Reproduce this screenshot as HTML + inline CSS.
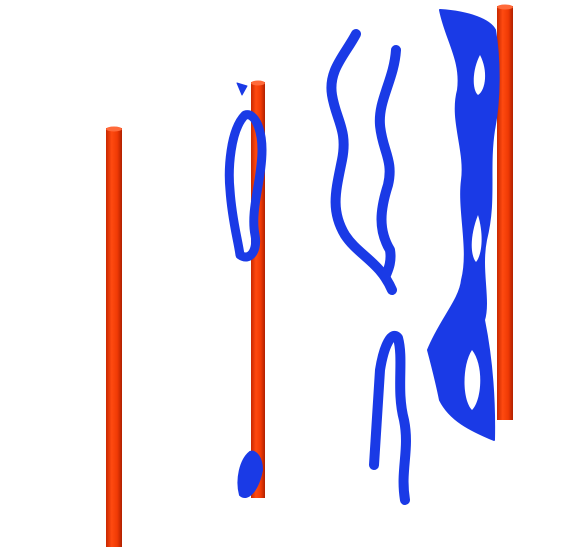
<!DOCTYPE html>
<html><head><meta charset="utf-8"><style>
html,body{margin:0;padding:0;background:#fff;}
svg{display:block;}
</style></head><body>
<svg width="576" height="557" viewBox="0 0 576 557">
<defs>
<linearGradient id="rod" x1="0" x2="1" y1="0" y2="0">
<stop offset="0" stop-color="#c82800"/><stop offset="0.35" stop-color="#ff4a10"/><stop offset="0.7" stop-color="#f03a05"/><stop offset="1" stop-color="#b02000"/>
</linearGradient>
</defs>
<g>
<rect x="106" y="128" width="16" height="419" fill="url(#rod)"/>
<ellipse cx="114" cy="129" rx="8" ry="2.5" fill="#ff6a3a"/>
<rect x="251" y="82" width="14" height="416" fill="url(#rod)"/>
<ellipse cx="258" cy="83" rx="7" ry="2.5" fill="#ff6a3a"/>
<rect x="497" y="6" width="16" height="414" fill="url(#rod)"/>
<ellipse cx="505" cy="7" rx="8" ry="2.5" fill="#ff6a3a"/>
</g>
<g fill="none" stroke="#1a3ae6" stroke-linecap="round" stroke-linejoin="round">
<path d="M237 83 L247 86 L242 95 Z" fill="#1a3ae6" stroke-width="1"/>
<path d="M245 115 C230 130 228 170 230 190 C232 220 238 240 240 255 C250 262 258 250 255 235 C250 210 262 180 262 150 C262 130 255 112 245 115 Z" stroke-width="9" fill="none"/>
<path d="M250 452 C240 460 236 480 240 495 C248 502 258 490 262 470 C262 458 256 450 250 452 Z" fill="#1a3ae6" stroke-width="2"/>
<path d="M356 34 C345 55 328 70 332 95 C336 120 348 130 342 160 C336 190 330 210 345 235 C358 255 380 262 392 290" stroke-width="10"/>
<path d="M396 50 C394 80 378 100 380 125 C382 150 394 160 388 185 C380 210 378 230 390 250 C392 262 388 270 386 275" stroke-width="10"/>
<path d="M374 465 C376 430 378 400 380 370 C384 345 392 330 398 338 C404 360 396 390 404 420 C410 450 400 470 405 500" stroke-width="10"/>
<path d="M440 10 C470 12 490 20 495 30 C500 60 500 100 494 130 C488 170 496 200 486 240 C480 270 490 300 484 320 C490 350 495 390 494 440 C470 430 450 420 440 400 C436 380 432 365 428 350 C440 320 460 300 462 280 C470 250 458 210 462 180 C466 150 450 120 458 90 C462 60 446 40 440 10 Z" fill="#1a3ae6" stroke-width="2"/>
<path d="M480 55 C472 70 472 90 478 95 C486 90 488 70 480 55 Z" fill="#fff" stroke="none"/>
<path d="M472 350 C462 365 462 400 472 410 C482 400 484 365 472 350 Z" fill="#fff" stroke="none"/>
<path d="M478 215 C470 235 470 255 476 262 C482 255 484 235 478 215 Z" fill="#fff" stroke="none"/>
</g>
</svg>
</body></html>
